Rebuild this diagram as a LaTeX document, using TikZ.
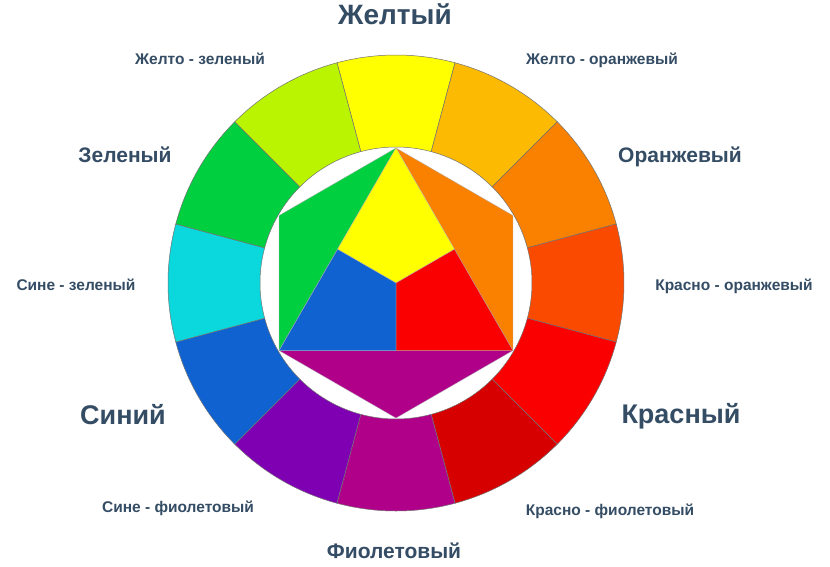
\documentclass[tikz,border=0pt]{standalone}
\usepackage{fontspec}
\setmainfont{Liberation Sans}
\usepackage{tikz}
\usetikzlibrary{positioning,calc}
\definecolor{labelblue}{RGB}{52,76,100}
\definecolor{cY}{RGB}{255,255,0}
\definecolor{cYO}{RGB}{252,186,3}
\definecolor{cO}{RGB}{250,128,0}
\definecolor{cRO}{RGB}{250,74,0}
\definecolor{cR}{RGB}{250,0,0}
\definecolor{cRV}{RGB}{214,0,0}
\definecolor{cV}{RGB}{176,0,138}
\definecolor{cBV}{RGB}{127,0,178}
\definecolor{cB}{RGB}{16,98,208}
\definecolor{cBG}{RGB}{10,216,220}
\definecolor{cG}{RGB}{0,207,64}
\definecolor{cYG}{RGB}{186,244,0}
\newcommand{\ringpart}[2]{
	% one piece of the outer ring
	\path [ring, fill=#2] (#1-15:228) arc[start angle=#1-15, end angle=#1+15, radius=228]
		-- (#1+15:136) arc[start angle=#1+15, end angle=#1-15, radius=136] -- cycle;
}
\newcommand{\colorlabel}[5][]{
	\node [#2] (#1) at (#3, #4) {#5};
}

\begin{document}
\begin{tikzpicture}[x=1pt, y=1pt,
	ring/.style={draw=black!55, line width=0.5pt},
	inner/.style={draw=black!30, line width=0.3pt},
	lbl/.style={text=labelblue, anchor=base, inner sep=0pt},
	primary/.style={lbl, font=\bfseries\fontsize{27}{32}\selectfont},
	secondary/.style={lbl, font=\bfseries\fontsize{21}{25}\selectfont},
	tertiary/.style={lbl, font=\bfseries\fontsize{15.5}{18}\selectfont}]
		\path [fill=white, use as bounding box] (-396,-283) rectangle (434,283);
		
		\ringpart{90}{cY}
		\ringpart{60}{cYO}
		\ringpart{30}{cO}
		\ringpart{0}{cRO}
		\ringpart{-30}{cR}
		\ringpart{-60}{cRV}
		\ringpart{-90}{cV}
		\ringpart{-120}{cBV}
		\ringpart{-150}{cB}
		\ringpart{180}{cBG}
		\ringpart{150}{cG}
		\ringpart{120}{cYG}
		
		\coordinate (c) at (0,0);
		\coordinate (hT) at (90:135);
		\coordinate (hUR) at (30:135);
		\coordinate (hLR) at (-30:135);
		\coordinate (hB) at (-90:135);
		\coordinate (hLL) at (-150:135);
		\coordinate (hUL) at (150:135);
		\coordinate (mL) at ($(hT)!0.5!(hLL)$);
		\coordinate (mR) at ($(hT)!0.5!(hLR)$);
		\coordinate (mB) at ($(hLL)!0.5!(hLR)$);
		
		\path [inner, fill=cG] (hT) -- (hUL) -- (hLL) -- cycle;
		\path [inner, fill=cO] (hT) -- (hUR) -- (hLR) -- cycle;
		\path [inner, fill=cV] (hLL) -- (hLR) -- (hB) -- cycle;
		\path [inner, fill=cY] (hT) -- (mR) -- (c) -- (mL) -- cycle;
		\path [inner, fill=cR] (c) -- (mR) -- (hLR) -- (mB) -- cycle;
		\path [inner, fill=cB] (c) -- (mB) -- (hLL) -- (mL) -- cycle;
		
		\colorlabel[Y]{primary, font=\bfseries\fontsize{28}{32}\selectfont}{-1}{259}{Желтый}
		\colorlabel[B]{primary}{-273}{-141}{Синий}
		\colorlabel[R]{primary}{285}{-140}{Красный}
		\colorlabel[G]{secondary}{-271}{121}{Зеленый}
		\colorlabel[O]{secondary}{284}{121}{Оранжевый}
		\colorlabel[V]{secondary}{-2}{-275}{Фиолетовый}
		\colorlabel[YG]{tertiary}{-196}{219}{Желто - зеленый}
		\colorlabel[YO]{tertiary}{206}{219}{Желто - оранжевый}
		\colorlabel[BG]{tertiary}{-320}{-7}{Сине - зеленый}
		\colorlabel[RO]{tertiary}{338}{-7}{Красно - оранжевый}
		\colorlabel[BV]{tertiary}{-218}{-229}{Сине - фиолетовый}
		\colorlabel[RV]{tertiary}{214}{-232}{Красно - фиолетовый}
\end{tikzpicture}
\end{document}
